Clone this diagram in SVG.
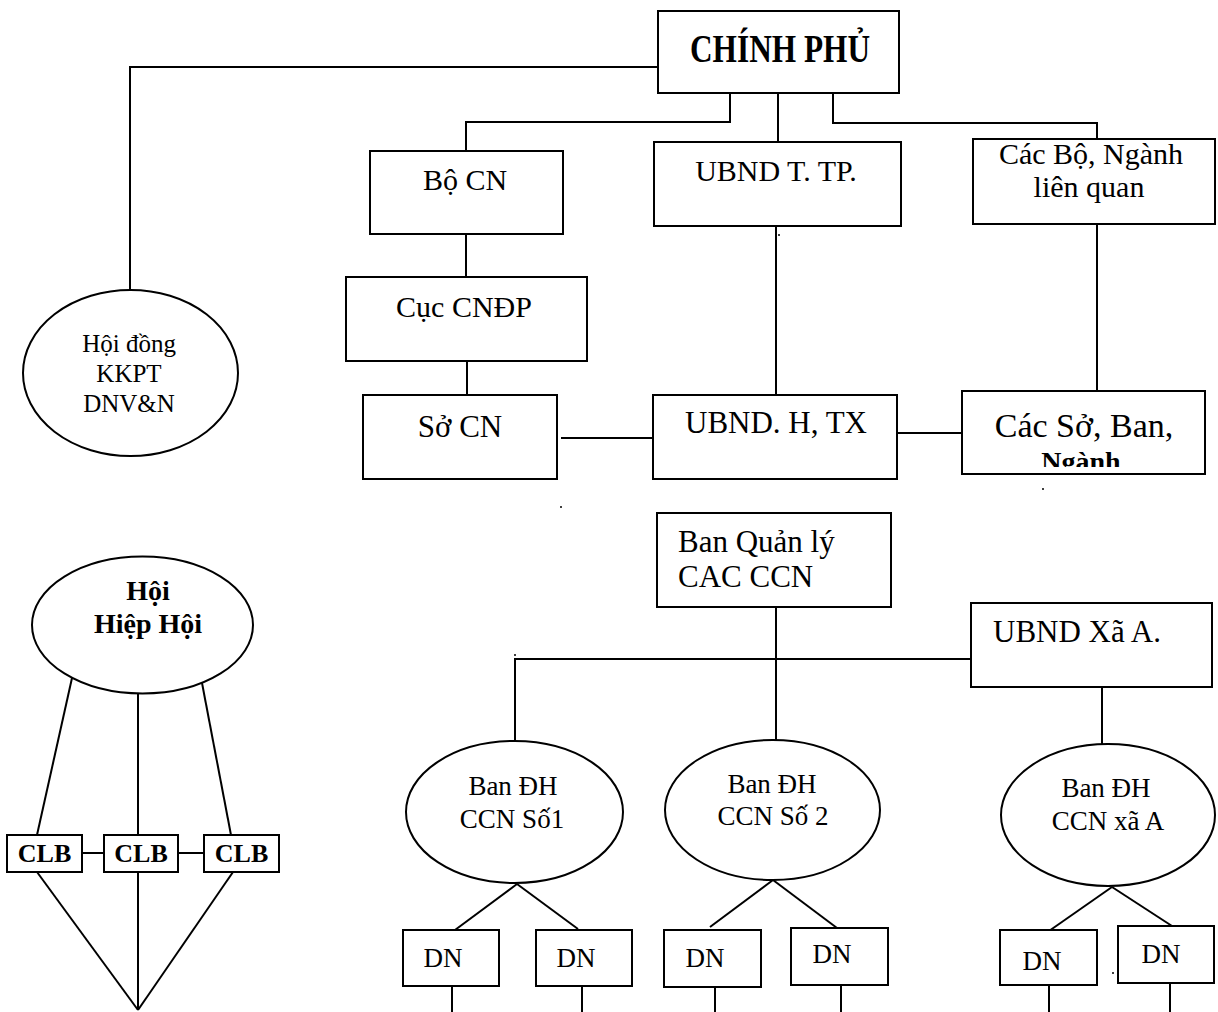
<svg xmlns="http://www.w3.org/2000/svg" width="1218" height="1012" viewBox="0 0 1218 1012">
<style>
.b{fill:#fff;stroke:#000;stroke-width:2}
.t{font-family:"Liberation Serif","Times New Roman",serif;fill:#000;text-anchor:middle}
.s{text-anchor:start}
.bd{font-weight:bold}
.c line,.c polyline{stroke:#000;stroke-width:2;fill:none}
</style>
<defs>
<clipPath id="cl"><rect x="962" y="391" width="243" height="76"/></clipPath>
</defs>
<rect width="1218" height="1012" fill="#fff"/>
<g id="connectors" class="c">
<polyline points="658,67 130,67 130,290"/>
<polyline points="730,93 730,122 466,122 466,151"/>
<line x1="778" y1="93" x2="778" y2="142"/>
<polyline points="833,93 833,123 1097,123 1097,139"/>
<line x1="466" y1="234" x2="466" y2="277"/>
<line x1="467" y1="361" x2="467" y2="395"/>
<line x1="776" y1="226" x2="776" y2="395"/>
<line x1="1097" y1="224" x2="1097" y2="391"/>
<line x1="561" y1="438" x2="657" y2="438"/>
<line x1="893" y1="433" x2="962" y2="433"/>
<line x1="776" y1="607" x2="776" y2="740"/>
<polyline points="515,740 515,659 973,659"/>
<line x1="1102" y1="687" x2="1102" y2="744"/>
<line x1="517" y1="884" x2="455" y2="930"/>
<line x1="517" y1="884" x2="578" y2="929"/>
<line x1="773" y1="880" x2="710" y2="927"/>
<line x1="773" y1="880" x2="837" y2="928"/>
<line x1="1112" y1="887" x2="1049" y2="931"/>
<line x1="1112" y1="887" x2="1172" y2="926"/>
<line x1="452" y1="986" x2="452" y2="1012"/>
<line x1="582" y1="986" x2="582" y2="1012"/>
<line x1="715" y1="987" x2="715" y2="1012"/>
<line x1="841" y1="985" x2="841" y2="1012"/>
<line x1="1049" y1="985" x2="1049" y2="1012"/>
<line x1="1170" y1="983" x2="1170" y2="1012"/>
<line x1="72" y1="678" x2="37" y2="835"/>
<line x1="138" y1="693" x2="138" y2="835"/>
<line x1="202" y1="683" x2="231" y2="835"/>
<line x1="82" y1="853" x2="104" y2="853"/>
<line x1="178" y1="853" x2="204" y2="853"/>
<line x1="37" y1="872" x2="138" y2="1010"/>
<line x1="138" y1="872" x2="138" y2="1010"/>
<line x1="233" y1="872" x2="138" y2="1010"/>
</g>
<g id="dots" fill="#000">
<circle cx="779" cy="235" r="1"/>
<circle cx="1043" cy="489" r="1"/>
<circle cx="561" cy="507" r="1"/>
<circle cx="515" cy="655" r="1"/>
<circle cx="1113" cy="973" r="1"/>
</g>
<g id="chinh-phu"><rect class="b" x="658" y="11" width="241" height="82"/><text class="t bd" x="780" y="62" font-size="40" textLength="180" lengthAdjust="spacingAndGlyphs">CHÍNH PHỦ</text></g>
<g id="bo-cn"><rect class="b" x="370" y="151" width="193" height="83"/><text class="t" x="465" y="190" font-size="30">Bộ CN</text></g>
<g id="ubnd-ttp"><rect class="b" x="654" y="142" width="247" height="84"/><text class="t" x="776" y="181" font-size="30">UBND T. TP.</text></g>
<g id="cac-bo"><rect class="b" x="973" y="139" width="242" height="85"/><text class="t" x="1091" y="164" font-size="30">Các Bộ, Ngành</text><text class="t" x="1089" y="197" font-size="30">liên quan</text></g>
<g id="cuc-cndp"><rect class="b" x="346" y="277" width="241" height="84"/><text class="t" x="464" y="317" font-size="30">Cục CNĐP</text></g>
<g id="so-cn"><rect class="b" x="363" y="395" width="194" height="84"/><text class="t" x="460" y="437" font-size="31">Sở CN</text></g>
<g id="ubnd-h"><rect class="b" x="653" y="395" width="244" height="84"/><text class="t" x="776" y="433" font-size="31">UBND. H, TX</text></g>
<g id="cac-so"><rect class="b" x="962" y="391" width="243" height="83"/><text class="t" x="1084" y="437" font-size="34">Các Sở, Ban,</text><text class="t bd" x="1081" y="471" font-size="28" clip-path="url(#cl)">Ngành</text></g>
<g id="hoi-dong"><ellipse class="b" cx="130.5" cy="373" rx="107.5" ry="83"/><text class="t" x="129" y="352" font-size="25">Hội đồng</text><text class="t" x="129" y="382" font-size="25">KKPT</text><text class="t" x="129" y="412" font-size="25">DNV&amp;N</text></g>
<g id="ban-quan-ly"><rect class="b" x="657" y="513" width="234" height="94"/><text class="t s" x="678" y="552" font-size="31">Ban Quản lý</text><text class="t s" x="678" y="587" font-size="31">CAC CCN</text></g>
<g id="ubnd-xa"><rect class="b" x="971" y="603" width="241" height="84"/><text class="t s" x="993" y="642" font-size="31">UBND Xã A.</text></g>
<g id="hoi"><ellipse class="b" cx="142.5" cy="625" rx="110.5" ry="68.5"/><text class="t bd" x="148" y="600" font-size="28">Hội</text><text class="t bd" x="148" y="633" font-size="28">Hiệp Hội</text></g>
<g id="clb1"><rect class="b" x="7" y="835" width="75" height="37"/><text class="t bd" x="44.5" y="862" font-size="26">CLB</text></g>
<g id="clb2"><rect class="b" x="104" y="835" width="74" height="37"/><text class="t bd" x="141" y="862" font-size="26">CLB</text></g>
<g id="clb3"><rect class="b" x="204" y="835" width="75" height="37"/><text class="t bd" x="241.5" y="862" font-size="26">CLB</text></g>
<g id="ban-dh-1"><ellipse class="b" cx="514.5" cy="812" rx="108.5" ry="71"/><text class="t" x="513" y="795" font-size="27">Ban ĐH</text><text class="t" x="512" y="828" font-size="27">CCN Số1</text></g>
<g id="ban-dh-2"><ellipse class="b" cx="772.5" cy="810" rx="107.5" ry="70"/><text class="t" x="772" y="793" font-size="27">Ban ĐH</text><text class="t" x="773" y="825" font-size="27">CCN Số 2</text></g>
<g id="ban-dh-xa"><ellipse class="b" cx="1108" cy="815" rx="107" ry="71"/><text class="t" x="1106" y="797" font-size="27">Ban ĐH</text><text class="t" x="1108" y="830" font-size="27">CCN xã A</text></g>
<g id="dn1"><rect class="b" x="403" y="930" width="96" height="56"/><text class="t" x="443" y="967" font-size="27">DN</text></g>
<g id="dn2"><rect class="b" x="536" y="930" width="96" height="56"/><text class="t" x="576" y="967" font-size="27">DN</text></g>
<g id="dn3"><rect class="b" x="664" y="930" width="97" height="57"/><text class="t" x="705" y="967" font-size="27">DN</text></g>
<g id="dn4"><rect class="b" x="791" y="928" width="97" height="57"/><text class="t" x="832" y="963" font-size="27">DN</text></g>
<g id="dn5"><rect class="b" x="1000" y="930" width="97" height="55"/><text class="t" x="1042" y="970" font-size="27">DN</text></g>
<g id="dn6"><rect class="b" x="1118" y="926" width="96" height="57"/><text class="t" x="1161" y="963" font-size="27">DN</text></g>
</svg>
